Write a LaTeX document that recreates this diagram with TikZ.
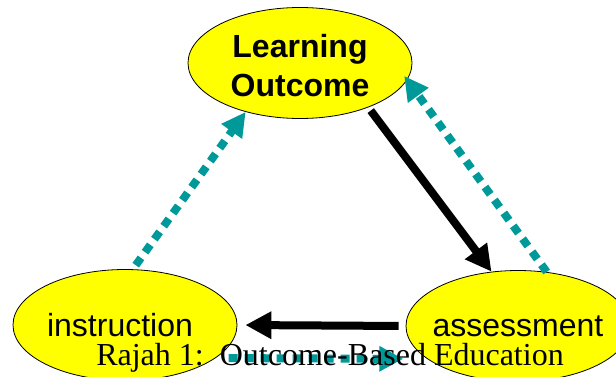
\documentclass[tikz,border=0pt]{standalone}
\usepackage{fontspec}
\setmainfont{Liberation Serif}
\newfontfamily\arialfont{Liberation Sans}
\usetikzlibrary{shapes.geometric,arrows.meta}
\definecolor{flowteal}{RGB}{0,153,153}
\definecolor{blobyellow}{RGB}{255,255,0}
\tikzset{
	blob/.style={ellipse, draw=black, line width=0.8pt, fill=blobyellow,
		minimum width=224pt, minimum height=111pt, inner sep=0pt},
	blobtext/.style={font=\arialfont\fontsize{32}{39}\selectfont, align=center, inner sep=0pt},
	mainflow/.style={line width=8pt, -{Triangle[length=26pt,width=26pt]}},
	backflow/.style={flowteal, line width=8pt, dash pattern=on 9pt off 7pt,
		-{Triangle[length=24pt,width=24pt]}},
}

\begin{document}
\begin{tikzpicture}[x=1pt,y=-1pt]
		\useasboundingbox (0,0) rectangle (616,377);
		
		\node[blob, label={[blobtext, yshift=-3pt]center:{\bfseries Learning\\\bfseries Outcome}}] (lo) at (300,63) {};
		\node[blob, label={[blobtext, xshift=-5pt]center:instruction}] (ins) at (125,325) {};
		\node[blob, label={[blobtext]center:assessment}] (asm) at (518,326) {};
		
		\draw[mainflow, shorten <=4pt] (lo.-33) -- (asm.116);
		\draw[mainflow, shorten <=7pt, shorten >=8pt] (asm.west) -- (ins.east);
		
		\draw[backflow, shorten <=5pt] (ins.82) -- (lo.222);
		\draw[backflow, shorten >=-5pt] (asm.62) -- (lo.-9);
		\draw[backflow, shorten <=13pt, shorten >=24pt] (ins.-20) -- (asm.200);
		
		\node[anchor=base, font=\fontsize{32}{38}\selectfont, inner sep=0pt] (caption) at (330,365)
			{Rajah 1:\ \ Outcome-Based Education};
\end{tikzpicture}
\end{document}
